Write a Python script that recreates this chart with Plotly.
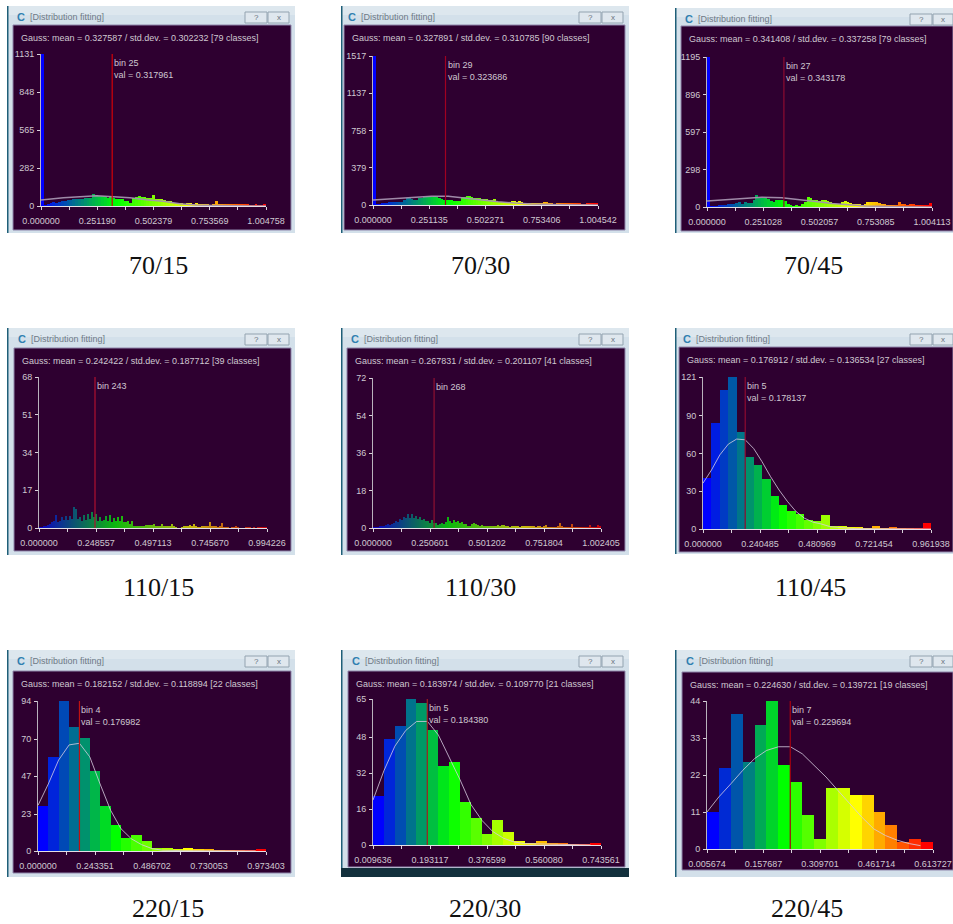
import plotly.graph_objects as go

W, H = 953, 924

captions = ["70/15", "70/30", "70/45", "110/15", "110/30", "110/45", "220/15", "220/30", "220/45"]
gauss_text = [
    "Gauss: mean = 0.327587 / std.dev. = 0.302232 [79 classes]",
    "Gauss: mean = 0.327891 / std.dev. = 0.310785 [90 classes]",
    "Gauss: mean = 0.341408 / std.dev. = 0.337258 [79 classes]",
    "Gauss: mean = 0.242422 / std.dev. = 0.187712 [39 classes]",
    "Gauss: mean = 0.267831 / std.dev. = 0.201107 [41 classes]",
    "Gauss: mean = 0.176912 / std.dev. = 0.136534 [27 classes]",
    "Gauss: mean = 0.182152 / std.dev. = 0.118894 [22 classes]",
    "Gauss: mean = 0.183974 / std.dev. = 0.109770 [21 classes]",
    "Gauss: mean = 0.224630 / std.dev. = 0.139721 [19 classes]",
]
bin_labels = ["bin 25", "bin 29", "bin 27", "bin 243", "bin 268", "bin 5", "bin 4", "bin 5", "bin 7"]
val_labels = ["val = 0.317961", "val = 0.323686", "val = 0.343178", "", "", "val = 0.178137",
              "val = 0.176982", "val = 0.184380", "val = 0.229694"]
marker_vals = [0.317961, 0.323686, 0.343178, 0.2442, 0.2686, 0.178137, 0.176982, 0.184380, 0.229694]
marker_colors = ["#d40008", "#a00022", "#8c0a30", "#b01030", "#8f1030", "#8f0a30", "#c01010", "#a02020", "#a80010"]

x_ticks = [
    [0.000000, 0.251190, 0.502379, 0.753569, 1.004758],
    [0.000000, 0.251135, 0.502271, 0.753406, 1.004542],
    [0.000000, 0.251028, 0.502057, 0.753085, 1.004113],
    [0.000000, 0.248557, 0.497113, 0.745670, 0.994226],
    [0.000000, 0.250601, 0.501202, 0.751804, 1.002405],
    [0.000000, 0.240485, 0.480969, 0.721454, 0.961938],
    [0.000000, 0.243351, 0.486702, 0.730053, 0.973403],
    [0.009636, 0.193117, 0.376599, 0.560080, 0.743561],
    [0.005674, 0.157687, 0.309701, 0.461714, 0.613727],
]
y_ticks = [
    [0, 282, 565, 848, 1131],
    [0, 379, 758, 1137, 1517],
    [0, 298, 597, 896, 1195],
    [0, 17, 34, 51, 68],
    [0, 18, 36, 54, 72],
    [0, 30, 60, 90, 121],
    [0, 23, 47, 70, 94],
    [0, 16, 32, 48, 65],
    [0, 11, 22, 33, 44],
]

bars_70_15 = [1131, 7, 15, 25, 32, 25, 32, 40, 37, 45, 45, 50, 52, 50, 50, 60, 57, 62, 87, 79, 74, 74, 67, 57, 64,
              57, 50, 50, 50, 35, 35, 25, 57, 67, 72, 69, 69, 60, 62, 79, 55, 55, 55, 42, 37, 35, 25, 22, 22, 22,
              17, 20, 20, 17, 20, 15, 12, 10, 10, 7, 12, 35, 12, 10, 15, 12, 12, 10, 15, 15, 12, 15, 10, 7, 7,
              10, 7, 7, 15]
bars_70_30 = [1517, 7, 10, 14, 14, 24, 27, 27, 27, 34, 31, 27, 54, 68, 68, 61, 54, 54, 68, 75, 85, 92, 88, 85, 92,
              81, 68, 61, 54, 54, 47, 47, 41, 41, 41, 85, 85, 88, 92, 81, 75, 68, 68, 61, 58, 64, 54, 51, 58, 34,
              34, 34, 27, 27, 27, 44, 41, 34, 37, 31, 24, 20, 20, 24, 17, 20, 24, 24, 27, 31, 14, 14, 10, 17, 17,
              14, 14, 17, 17, 20, 17, 17, 14, 10, 10, 14, 14, 17, 20, 20]
bars_70_45 = [1195, 5, 8, 8, 11, 13, 16, 21, 27, 27, 32, 37, 27, 43, 32, 32, 53, 93, 74, 74, 69, 67, 48, 37, 53,
              59, 53, 45, 21, 13, 8, 11, 8, 27, 40, 80, 69, 59, 59, 48, 53, 53, 48, 37, 32, 27, 27, 37, 45, 43,
              32, 27, 21, 21, 19, 27, 37, 40, 43, 40, 32, 21, 21, 16, 13, 11, 11, 37, 21, 27, 19, 21, 21, 13, 11,
              11, 13, 13, 32]
bars_110_15 = [0.2, 0.3, 0.5, 1, 1.2, 2, 2.5, 3, 6, 2.5, 3, 5, 3.5, 5.5, 3.5, 5.5, 4, 9.5, 8.5, 4, 5, 3, 6, 3.5, 6.5,
               4, 7, 5, 6.5, 3, 5, 3, 3.5, 5.5, 3, 6, 2.5, 4.5, 3, 5, 3, 5.5, 2.5, 2.5, 3, 2, 3, 1, 1, 0.7, 0.7, 1,
               1, 1.5, 1.2, 1.5, 1.2, 1.8, 0.7, 0.5, 0.7, 2, 0.7, 0.7, 1, 1, 1.8, 0.5, 0.2, 0, 0, 0.3, 0.5, 1, 0.5,
               1.5, 0.7, 1.8, 0.5, 0.3, 0.3, 0.5, 0.7, 0.5, 0.7, 2.8, 0.7, 0.5, 0.7, 0.3, 0.7, 2.2, 0.3, 0.2, 0.2,
               0, 0.3, 0.2, 0.5, 0.2, 0, 0, 0, 0.2, 0.3, 0.2, 0, 0.2, 0, 0.3, 0.2, 0.2, 0.2, 0.3]
bars_110_30 = [0.2, 0.2, 0.3, 0.5, 0.8, 1, 1.5, 1.8, 1.5, 2, 2.5, 3.5, 3, 4.5, 4, 5.5, 5, 6.5, 5, 6.5, 5, 6, 4.5, 5.5,
               4, 4.5, 3.5, 3.5, 2.5, 4, 2.5, 2.5, 1.5, 2, 2.5, 2, 3, 5.5, 3.5, 2.5, 4, 3, 3.5, 2.5, 3, 2, 2, 1, 1.2,
               2, 2.2, 1.8, 1.5, 1.2, 1.3, 1, 0.5, 0.7, 0.6, 1, 0.7, 0.8, 1.3, 1, 1.3, 1.5, 1.2, 0.8, 0.3, 1, 0.7,
               0.5, 0.5, 0.3, 0.6, 0.5, 0.5, 0.7, 0.8, 0.5, 0.5, 0.3, 0.5, 0.5, 0.3, 0.5, 1.5, 0.2, 0.2, 0.2, 0.2,
               0.2, 0.5, 2.2, 0.5, 0.2, 0.2, 0.2, 0.2, 2, 0.2, 0.2, 0.2, 0.1, 0.1, 0.2, 0.1, 0.2, 1.3, 0.2, 0.2, 0.2,
               1.5, 0.5]
bars_110_45 = [41, 84, 111, 121, 77, 57, 51, 40, 26, 19, 14.5, 12, 7, 6, 11, 2.5, 2, 1, 1, 0.5, 2, 0.5, 1, 0.5, 0.5, 0.5, 5]
bars_220_15 = [28, 59, 94, 78, 71, 50, 28, 16, 8, 10, 6, 2, 2, 1, 2, 1, 1, 0.3, 0.3, 0.3, 0.3, 1]
bars_220_30 = [22, 47, 53, 65, 63, 51, 35, 37, 19, 12, 5, 11, 6, 2, 1, 2, 1, 1, 0.3, 0.3, 1]
bars_220_45 = [11, 24, 40, 26, 37, 44, 25, 20, 10, 3, 18, 18, 16, 16, 11, 7, 2, 3, 2]
panel_bars = [bars_70_15, bars_70_30, bars_70_45, bars_110_15, bars_110_30, bars_110_45,
              bars_220_15, bars_220_30, bars_220_45]

# fitted curves (value axis position, count)
gauss_70_15_x = [0, 0.10, 0.2486, 0.323, 0.397, 0.47, 0.546, 0.62, 0.695, 0.77, 1.0048]
gauss_70_15_y = [45, 62, 77, 72, 62, 47, 35, 17, 7, 4, 0]
gauss_70_30_x = [0, 0.113, 0.2615, 0.336, 0.41, 0.484, 0.559, 0.633, 0.707, 0.856, 1.0045]
gauss_70_30_y = [51, 70, 88, 88, 68, 50, 34, 20, 10, 3, 0]
gauss_70_45_x = [0, 0.109, 0.244, 0.334, 0.409, 0.484, 0.559, 0.634, 0.709, 0.859, 1.0041]
gauss_70_45_y = [48, 62, 77, 74, 61, 43, 27, 16, 8, 2, 0]
gauss_110_45_x = [0, 0.036, 0.071, 0.107, 0.142, 0.178, 0.214, 0.249, 0.285, 0.321, 0.356, 0.392, 0.427, 0.463,
                  0.499, 0.534, 0.570, 0.641, 0.9619]
gauss_110_45_y = [36.5, 47, 59, 67.6, 71.6, 71, 64, 53.6, 41.7, 31, 22, 14, 8.7, 5.5, 4, 2, 1.3, 0.3, 0]
gauss_220_15_x = [0, 0.044, 0.088, 0.133, 0.177, 0.221, 0.265, 0.31, 0.354, 0.398, 0.442, 0.487, 0.53, 0.62, 0.929]
gauss_220_15_y = [28.6, 42, 57, 66.5, 67.5, 59, 42, 25.5, 14, 7.7, 4, 1.5, 0.5, 0.2, 0]
gauss_220_30_x = [0.0096, 0.0446, 0.08, 0.115, 0.15, 0.185, 0.22, 0.255, 0.29, 0.325, 0.36, 0.395, 0.43, 0.465,
                  0.5, 0.71]
gauss_220_30_y = [20, 33, 44, 51, 55, 55, 49, 39, 29, 18, 11, 6, 3, 1.3, 0.6, 0]
gauss_220_45_x = [0.0057, 0.0377, 0.07, 0.102, 0.134, 0.166, 0.198, 0.23, 0.262, 0.294, 0.326, 0.358, 0.39, 0.422,
                  0.454, 0.486, 0.518, 0.55, 0.58]
gauss_220_45_y = [11, 15.5, 19.4, 23.4, 26.9, 29.3, 30.4, 30.4, 28.3, 24.9, 21.4, 17.4, 13.5, 9.5, 6, 4, 2.6, 1.6, 1]
panel_gauss = [(gauss_70_15_x, gauss_70_15_y), (gauss_70_30_x, gauss_70_30_y), (gauss_70_45_x, gauss_70_45_y),
               ([], []), ([], []), (gauss_110_45_x, gauss_110_45_y),
               (gauss_220_15_x, gauss_220_15_y), (gauss_220_30_x, gauss_220_30_y), (gauss_220_45_x, gauss_220_45_y)]

# layout geometry, pixels: window, inner pane, axes box, caption centre
windows = [(7, 6, 295, 233), (341, 6, 629, 233), (675, 8, 953, 233),
           (7, 328, 295, 555), (341, 328, 629, 555), (675, 328, 953, 554),
           (7, 650, 295, 877), (341, 650, 629, 877), (675, 650, 953, 877)]
panes = [(13, 25, 291, 230), (344, 25, 625, 230), (681, 26, 953, 231),
         (14, 348, 291, 551), (347, 348, 625, 551), (679, 347, 953, 552),
         (13, 671, 291, 873), (348, 671, 625, 867), (682, 672, 953, 870)]
axes_box = [(41, 54, 266, 206), (373, 56, 598, 205), (707, 57, 932, 207),
            (39, 377, 267, 528), (373, 378, 601, 528), (703, 377, 931, 529),
            (38, 701, 266, 851), (373, 699, 601, 845), (707, 701, 933, 849)]
caption_pos = [(158, 265), (481, 265), (813, 265), (158, 587), (481, 587), (810, 587),
               (168, 908), (485, 908), (807, 908)]

PANE = "#2e0030"
TXT = "#cfc8d0"
UI = "Liberation Sans"
UI_SIZE = 9


def rainbow(t):
    stops = [(0, (0, 0, 255)), (1 / 3, (0, 255, 0)), (2 / 3, (255, 255, 0)), (1, (255, 0, 0))]
    for (a, ca), (b, cb) in zip(stops, stops[1:]):
        if t <= b:
            f = (t - a) / (b - a)
            return "rgb(%d,%d,%d)" % tuple(round(p + (q - p) * f) for p, q in zip(ca, cb))
    return "rgb(255,0,0)"


def fx(x):
    return x / W


def fy(y):
    return 1 - y / H


fig = go.Figure()
shapes, annotations = [], []


def rect(x0, y0, x1, y1, fill, line=None, width=0):
    shapes.append(dict(type="rect", xref="paper", yref="paper", x0=fx(x0), x1=fx(x1), y0=fy(y0), y1=fy(y1),
                       fillcolor=fill, line=dict(color=line or fill, width=width), layer="below"))


def label(x, y, text, size, color, family=UI, anchor="left"):
    annotations.append(dict(xref="paper", yref="paper", x=fx(x), y=fy(y), text=text, showarrow=False,
                            xanchor=anchor, yanchor="middle", borderpad=0,
                            font=dict(family=family, size=size, color=color)))


for i in range(9):
    n = i + 1
    wx0, wy0, wx1, wy1 = windows[i]
    px0, py0, px1, py1 = panes[i]
    ax0, ay0, ax1, ay1 = axes_box[i]

    # window chrome
    rect(wx0, wy0, wx1, wy1, "#d3e0ea")
    rect(wx0, wy0, wx1, wy0 + 9, "#dde7ee")
    rect(wx0, wy0, wx0 + 1.5, wy1, "#1f5f78")
    rect(px0, py0, px1, py1, PANE, "#8f86ab", 1)
    if i == 7:
        rect(wx0, 868, wx1, 877, "#12303c")
    bx = min(wx1, px1 + 4)
    if wx1 < W:
        rect(bx - 50, wy0 + 6, bx - 28, wy0 + 17, "#dfe7ee", "#93a3b0", 1)
        rect(bx - 27, wy0 + 6, bx - 6, wy0 + 17, "#dfe7ee", "#93a3b0", 1)
        label(bx - 39, wy0 + 11.5, "?", 8, "#66727c", anchor="center")
        label(bx - 16.5, wy0 + 11.5, "x", 8, "#66727c", anchor="center")
    else:
        rect(wx1 - 43, wy0 + 6, wx1 - 21, wy0 + 17, "#dfe7ee", "#93a3b0", 1)
        rect(wx1 - 20, wy0 + 6, wx1, wy0 + 17, "#dfe7ee", "#93a3b0", 1)
        label(wx1 - 32, wy0 + 11.5, "?", 8, "#66727c", anchor="center")
        label(wx1 - 10, wy0 + 11.5, "x", 8, "#66727c", anchor="center")
    label(px0 + 3, wy0 + 11, "<b>C</b>", 11, "#2f7fb0")
    label(px0 + 16, wy0 + 11, "[Distribution fitting]", 9, "#6f7a86")
    label(px0 + 7, py0 + 13, gauss_text[i], UI_SIZE, TXT)
    label(caption_pos[i][0], caption_pos[i][1], captions[i], 26, "#111111", "Liberation Serif", "center")

    # histogram
    xa, xb = x_ticks[i][0], x_ticks[i][-1]
    vals = panel_bars[i]
    step = (xb - xa) / len(vals)
    xs = [xa + step * (k + 0.5) for k in range(len(vals))]
    cols = [rainbow(k / (len(vals) - 1)) for k in range(len(vals))]
    fig.add_trace(go.Bar(x=xs, y=vals, width=step, marker=dict(color=cols, line=dict(width=0)),
                         opacity=0.72 if i in (3, 4) else 1, xaxis=f"x{n}", yaxis=f"y{n}", showlegend=False))
    gx, gy = panel_gauss[i]
    if gx:
        curve = dict(color="rgba(165,145,175,0.95)", width=1.5) if i < 3 else dict(color="rgba(215,205,225,0.8)", width=1)
        fig.add_trace(go.Scatter(x=gx, y=gy, mode="lines", line=curve,
                                 xaxis=f"x{n}", yaxis=f"y{n}", showlegend=False))
    ytop = y_ticks[i][-1]
    mv = marker_vals[i]
    fig.add_trace(go.Scatter(x=[mv, mv], y=[0, ytop], mode="lines", line=dict(color=marker_colors[i], width=1.2),
                             xaxis=f"x{n}", yaxis=f"y{n}", showlegend=False))
    annotations.append(dict(xref=f"x{n}", yref="paper", x=mv, y=fy(ay0 + 9), text=bin_labels[i], showarrow=False,
                            xanchor="left", yanchor="middle", xshift=0, font=dict(family=UI, size=UI_SIZE, color=TXT)))
    if val_labels[i]:
        annotations.append(dict(xref=f"x{n}", yref="paper", x=mv, y=fy(ay0 + 21), text=val_labels[i], showarrow=False,
                                xanchor="left", yanchor="middle", xshift=0, font=dict(family=UI, size=UI_SIZE, color=TXT)))

    # axes
    xt = x_ticks[i]
    tickvals, ticktext = [], []
    for k, v in enumerate(xt):
        tickvals.append(v)
        ticktext.append(f"{v:.6f}")
        if k < len(xt) - 1:
            tickvals.append((v + xt[k + 1]) / 2)
            ticktext.append("")
    xsuffix = "" if n == 1 else str(n)
    fig.layout[f"xaxis{xsuffix}"] = dict(
        domain=[fx(ax0), fx(ax1)], range=[xa, xb], anchor=f"y{xsuffix}", tickmode="array", tickvals=tickvals,
        ticktext=ticktext, ticks="outside", ticklen=3, tickcolor="#d8d2da", tickwidth=1, automargin=False,
        ticklabelstandoff=3, showline=True, linecolor="#e4dfe6", linewidth=1, showgrid=False, zeroline=False,
        tickfont=dict(family=UI, size=UI_SIZE, color=TXT), tickangle=0, layer="above traces")
    fig.layout[f"yaxis{xsuffix}"] = dict(
        domain=[fy(ay1), fy(ay0)], range=[0, ytop], anchor=f"x{xsuffix}", tickmode="array", tickvals=y_ticks[i],
        ticktext=[str(v) for v in y_ticks[i]], ticks="outside", ticklen=3, tickcolor="#d8d2da", tickwidth=1,
        automargin=False, ticklabelstandoff=1, showline=True, linecolor="#b9b2bc", linewidth=1, showgrid=False,
        zeroline=False, tickfont=dict(family=UI, size=UI_SIZE, color=TXT), layer="above traces")

fig.update_layout(width=W, height=H, margin=dict(l=0, r=0, t=0, b=0, pad=0, autoexpand=False), autosize=False,
                  bargap=0, barmode="overlay",
                  paper_bgcolor="white", plot_bgcolor="rgba(0,0,0,0)", showlegend=False,
                  shapes=shapes, annotations=annotations)
fig.write_html("out.html", config={"displayModeBar": False},
               post_script="document.body.style.margin='0';document.documentElement.style.overflow='hidden';")
